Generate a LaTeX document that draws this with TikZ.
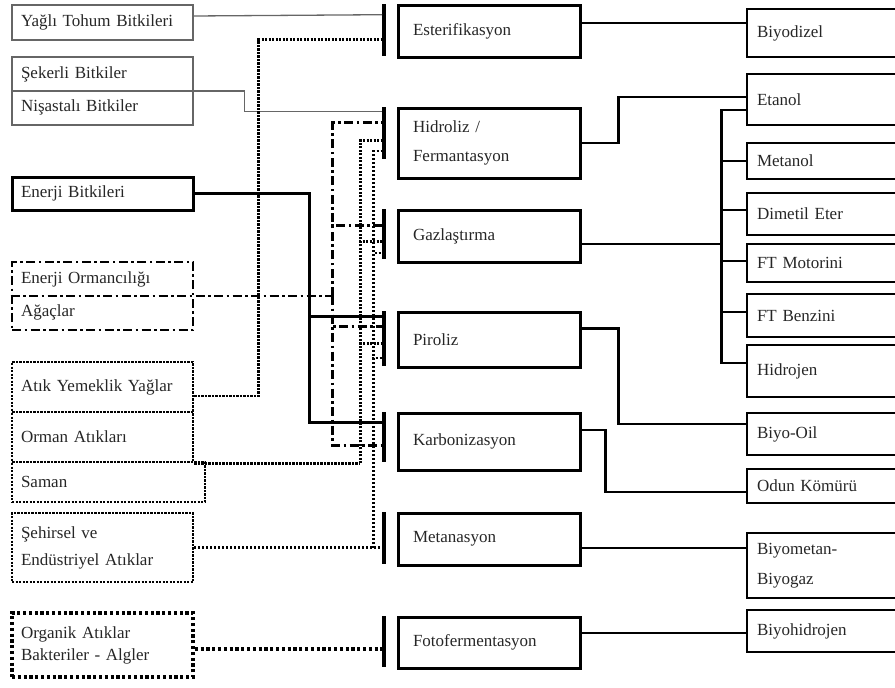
\documentclass[tikz,border=0pt]{standalone}
\usepackage{fontspec}
\setmainfont{Liberation Serif}
\usetikzlibrary{positioning}

\begin{document}
\begin{tikzpicture}[x=1pt, y=-1pt, font=\fontsize{17}{20}\selectfont]
    % Styles
    \tikzstyle{source} = [rectangle, draw, text=black!85, text width=163pt, align=left, inner xsep=9pt, inner ysep=0pt, minimum width=181pt]
    \tikzstyle{plain src} = [source, draw=black!60, line width=1.2pt]
    \tikzstyle{solid src} = [source, line width=3pt]
    \tikzstyle{dashdot src} = [source, line width=2.6pt, dash pattern=on 9pt off 3.5pt on 2.5pt off 3.5pt]
    \tikzstyle{dense src} = [source, line width=2.8pt, dash pattern=on 2.2pt off 1.3pt]
    \tikzstyle{dot src} = [source, line width=3.5pt, dash pattern=on 3.2pt off 2.6pt]
    \tikzstyle{process} = [rectangle, draw, line width=3pt, text=black!85, text width=152pt, align=left, inner xsep=15pt, inner ysep=0pt, minimum width=182pt]
    \tikzstyle{product} = [rectangle, draw, line width=2.8pt, text=black!85, text width=140pt, align=left, inner xsep=10pt, inner ysep=0pt, minimum width=160pt]
    \tikzstyle{bar} = [rectangle, fill=black, inner sep=0pt, minimum width=4pt]
    \tikzstyle{link} = [draw, line width=2.8pt]
    \tikzstyle{thin link} = [draw, black!60, line width=1.3pt]
    \tikzstyle{dashdot link} = [draw, line width=2.6pt, dash pattern=on 9pt off 3.5pt on 2.5pt off 3.5pt]
    \tikzstyle{dense link} = [draw, line width=2.8pt, dash pattern=on 2.2pt off 1.3pt]
    \tikzstyle{fine link} = [draw, line width=2.3pt, dash pattern=on 2pt off 2pt]
    \tikzstyle{dot link} = [draw, line width=3.5pt, dash pattern=on 3.2pt off 2.6pt]

    \clip (0,0) rectangle (895,688);

    % Sources
    \node [plain src, minimum height=35pt] (yagli) at (102.5,22.5) {Yağlı Tohum Bitkileri};
    \node [plain src, minimum height=68pt] (seker) at (102.5,91) {Şekerli Bitkiler\\[13pt]Nişastalı Bitkiler};
    \node [solid src, minimum height=33pt] (enerji) at (102.5,193.5) {Enerji Bitkileri};
    \node [dashdot src, minimum height=68pt] (orman) at (102.5,296) {Enerji Ormancılığı\\[13pt]Ağaçlar};
    \node [dense src, minimum height=50pt] (atik) at (102.5,387) {Atık Yemeklik Yağlar};
    \node [dense src, minimum height=50pt] (ormanatik) at (102.5,437) {Orman Atıkları};
    \node [dense src, text width=175pt, minimum width=193pt, minimum height=40pt] (saman) at (108.5,482) {Saman};
    \node [dense src, minimum height=69pt] (sehir) at (102.5,547.5) {Şehirsel ve\\[7pt]Endüstriyel Atıklar};
    \node [dot src, minimum height=64pt] (organik) at (102.5,645) {Organik Atıklar\\[2pt]Bakteriler - Algler};

    % Processes
    \node [process, minimum height=52pt] (esterif) at (489,31) {Esterifikasyon};
    \node [process, minimum height=70pt] (hidroliz) at (489,143) {Hidroliz /\\[9pt]Fermantasyon};
    \node [process, minimum height=52pt] (gaz) at (489,236) {Gazlaştırma};
    \node [process, minimum height=55pt] (piroliz) at (489,339.5) {Piroliz};
    \node [process, minimum height=57pt] (karbon) at (489,441.5) {Karbonizasyon};
    \node [process, minimum height=52pt] (metan) at (489,539) {Metanasyon};
    \node [process, minimum height=51pt] (foto) at (489,642.5) {Fotofermentasyon};

    % Bars
    \node [bar, minimum height=52pt, left=10pt of esterif.north west, anchor=north east] (esbar) {};
    \node [bar, minimum height=52pt, left=10pt of hidroliz.north west, anchor=north east] (hibar) {};
    \node [bar, minimum height=50pt, left=10pt of gaz.north west, anchor=north east] (gabar) {};
    \node [bar, minimum height=55pt, left=10pt of piroliz.north west, anchor=north east] (pibar) {};
    \node [bar, minimum height=50pt, left=10pt of karbon.north west, anchor=north east] (kabar) {};
    \node [bar, minimum height=52pt, left=10pt of metan.north west, anchor=north east] (mebar) {};
    \node [bar, minimum height=51pt, left=10pt of foto.north west, anchor=north east] (fobar) {};

    % Products
    \node [product, minimum height=48pt] (biyodizel) at (827,33) {Biyodizel};
    \node [product, minimum height=51pt] (etanol) at (827,99.5) {Etanol};
    \node [product, minimum height=36pt] (metanol) at (827,161) {Metanol};
    \node [product, minimum height=42pt] (dimetil) at (827,214) {Dimetil Eter};
    \node [product, minimum height=38pt] (ftmotor) at (827,263) {FT Motorini};
    \node [product, minimum height=43pt] (ftbenz) at (827,315.5) {FT Benzini};
    \node [product, minimum height=52pt] (hidrojen) at (827,371) {Hidrojen};
    \node [product, minimum height=42pt] (biyooil) at (827,434) {Biyo-Oil};
    \node [product, minimum height=34pt] (odun) at (827,486) {Odun Kömürü};
    \node [product, minimum height=65pt] (biyometan) at (827,565.5) {Biyometan-\\[10pt]Biyogaz};
    \node [product, minimum height=42pt] (biyohid) at (827,631) {Biyohidrojen};

    % Edges, sources to processes
    \path [thin link] ([yshift=6.5pt]yagli.east) -- ([yshift=15pt]esbar.west);
    \path [thin link] (seker.west) -- ++(233,0) |- ([yshift=21pt]hibar.west);
    \path [link] (enerji.east) -- ++(115,0) coordinate (ej) |- ([yshift=21.5pt]pibar.west);
    \path [link] (ej) |- ([yshift=14pt]kabar.west);
    \path [dashdot link] (orman.west) -- ++(322,0) coordinate (oj);
    \path [dashdot link] (oj) |- ([yshift=10pt]hibar.west);
    \path [dashdot link] (oj) |- ([yshift=8pt]gabar.west);
    \path [dashdot link] (oj) |- ([yshift=11.5pt]pibar.west);
    \path [dashdot link] (oj) |- ([yshift=-9pt]kabar.west);
    \path [dense link] ([yshift=-9pt]atik.east) -- ++(64,0) |- ([yshift=-10pt]esbar.west);
    \path [dense link] (ormanatik.south east) -- ++(166,0) coordinate (mj);
    \path [dense link] (mj) |- ([yshift=-8pt]hibar.west);
    \path [dense link] (mj) |- ([yshift=-8pt]gabar.west);
    \path [dense link] (mj) |- ([yshift=-5.5pt]pibar.west);
    \path [fine link] (sehir.east) -- ++(179,0) coordinate (sj) -- (sehir.east -| mebar.west);
    \path [fine link] (sj) |- ([yshift=-18pt]hibar.west);
    \path [fine link] (sj) |- ([yshift=-19pt]gabar.west);
    \path [fine link] (sj) |- ([yshift=-19.5pt]pibar.west);
    \path [dot link] ([yshift=-4pt]organik.east) -- ([yshift=-4pt]organik.east -| fobar.west);

    % Edges, processes to products
    \path [link] ([yshift=8pt]esterif.east) -- ([yshift=10pt]biyodizel.west);
    \path [link] (hidroliz.east) -- ++(37,0) |- ([yshift=2.5pt]etanol.west);
    \path [link] ([yshift=-8pt]gaz.east) -- ++(140,0) coordinate (gj);
    \path [link] (gj) |- ([yshift=-10.5pt]etanol.west);
    \path [link] (gj) |- (metanol.west);
    \path [link] (gj) |- ([yshift=4pt]dimetil.west);
    \path [link] (gj) |- ([yshift=2pt]ftmotor.west);
    \path [link] (gj) |- ([yshift=3.5pt]ftbenz.west);
    \path [link] (gj) |- ([yshift=8pt]hidrojen.west);
    \path [link] ([yshift=11pt]piroliz.east) -- ++(37,0) |- ([yshift=10pt]biyooil.west);
    \path [link] ([yshift=11.5pt]karbon.east) -- ++(24,0) |- ([yshift=-6pt]odun.west);
    \path [link] ([yshift=-9pt]metan.east) -- ([yshift=17.5pt]biyometan.west);
    \path [link] ([yshift=9.5pt]foto.east) -- ([yshift=-2pt]biyohid.west);
\end{tikzpicture}
\end{document}
